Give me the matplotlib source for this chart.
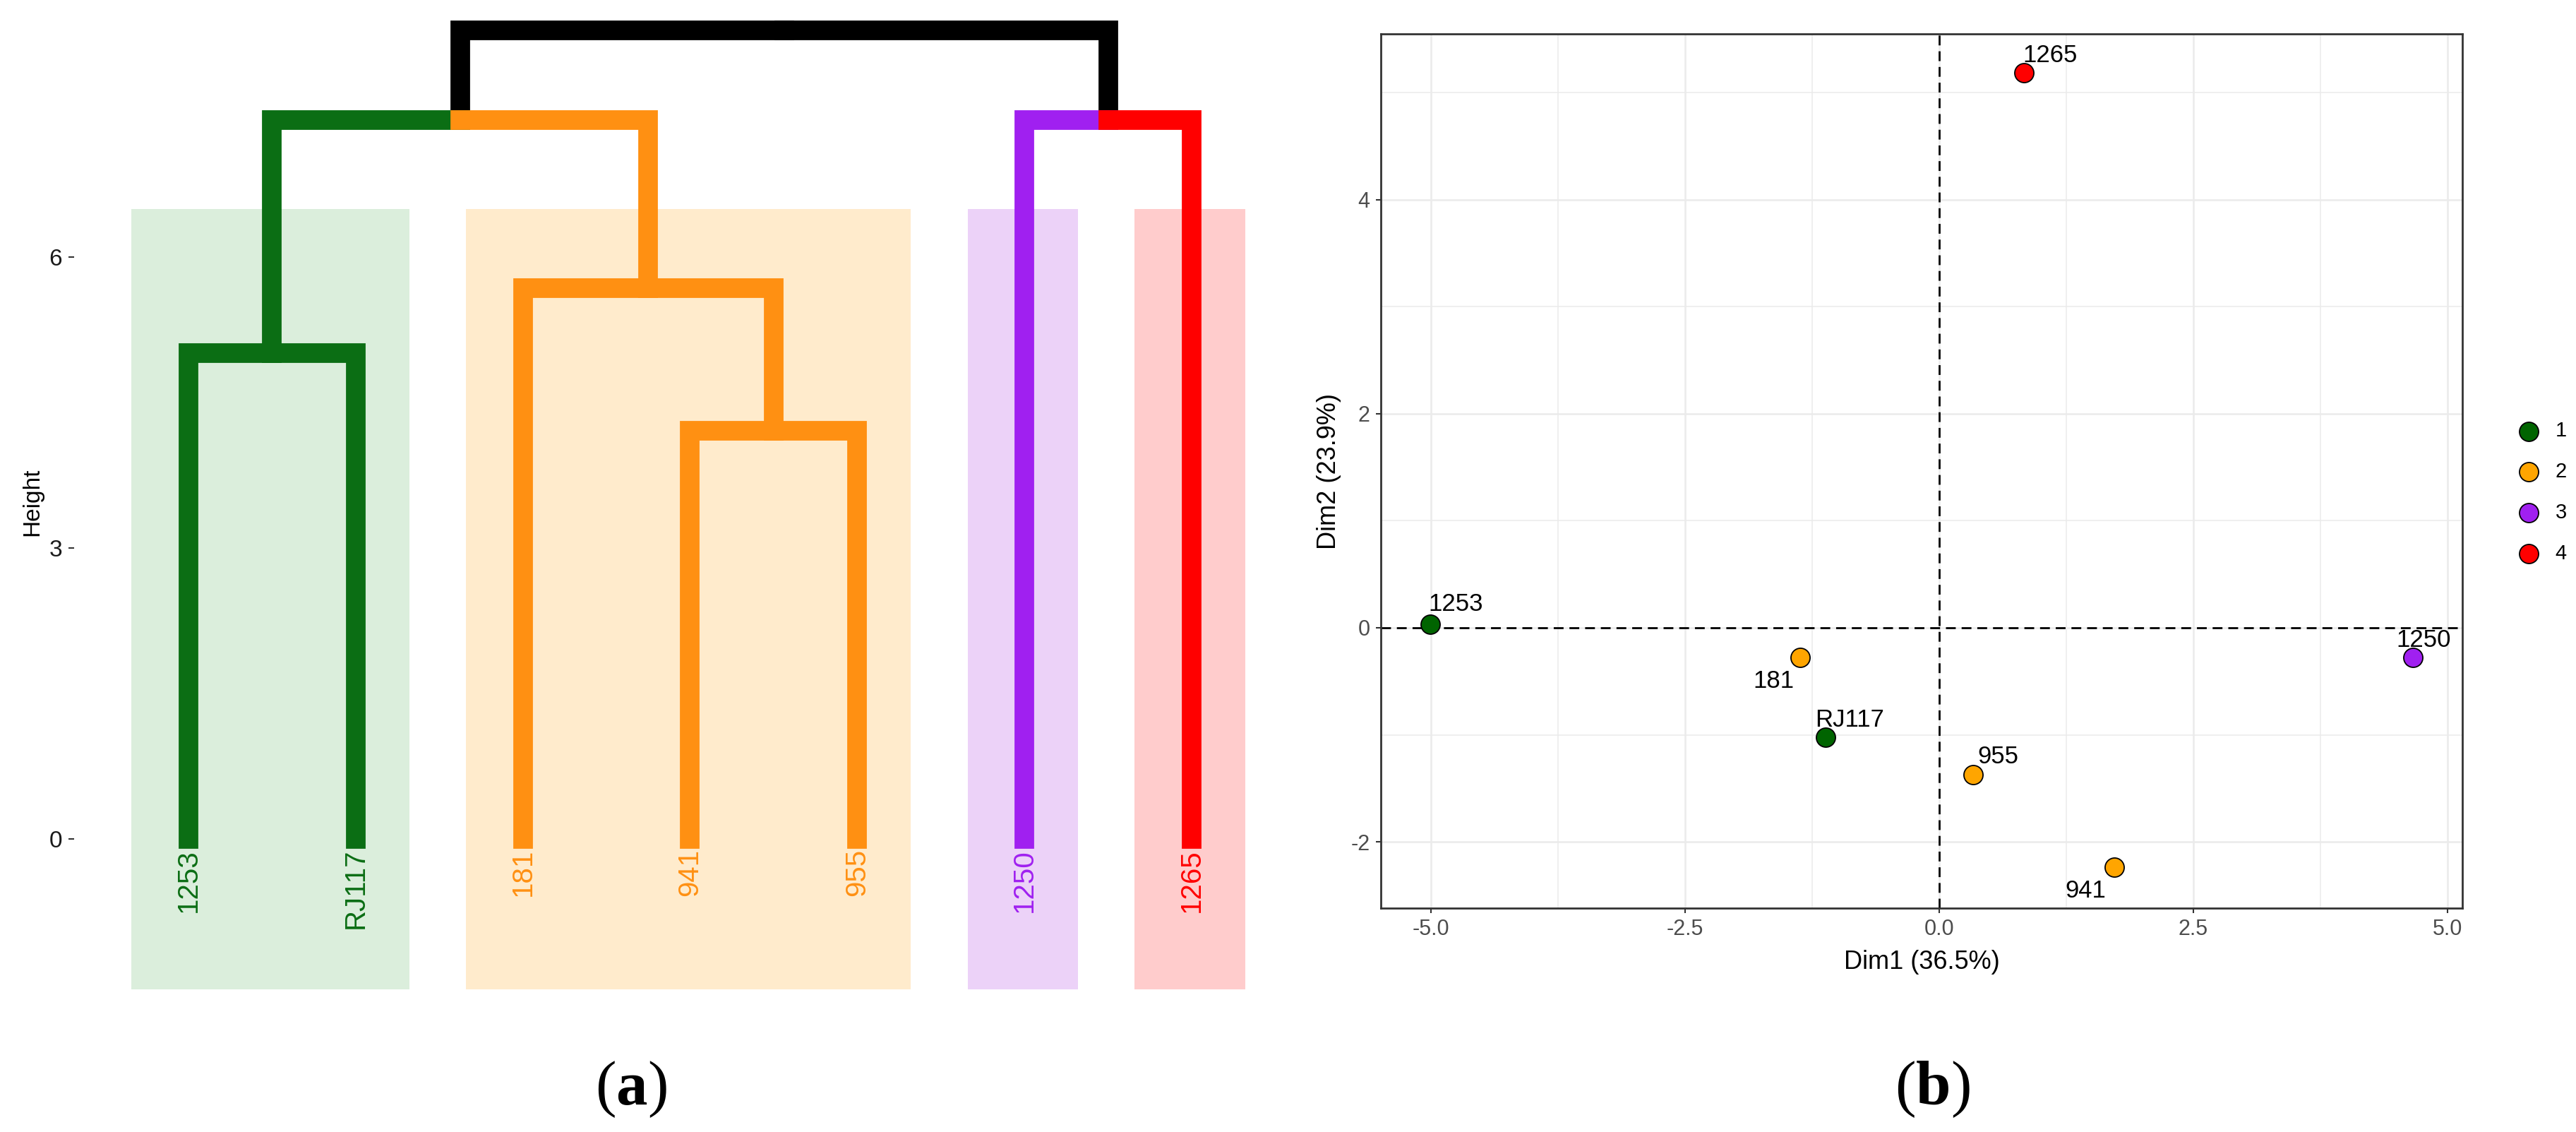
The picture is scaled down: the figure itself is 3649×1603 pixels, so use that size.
import matplotlib
matplotlib.use('Agg')
from matplotlib import pyplot as plt
from matplotlib.patches import Rectangle

plt.rcParams['font.family'] = ['Liberation Sans', 'DejaVu Sans']
plt.rcParams['axes.unicode_minus'] = False
plt.rcParams['mathtext.fontset'] = 'custom'
plt.rcParams['mathtext.rm'] = 'Liberation Serif'
plt.rcParams['mathtext.bf'] = 'Liberation Serif:bold'

# (a) dendrogram data, leaves in plotting order
leaf_labels = ['1253', 'RJ117', '181', '941', '955', '1250', '1265']
leaf_cluster = [1, 1, 2, 2, 2, 3, 4]
# hclust style merges: negative = leaf (1-based), positive = earlier merge
merge_left = [-4, -1, -3, 2, -6, 4]
merge_right = [-5, -2, 1, 3, -7, 5]
merge_height = [4.21, 5.01, 5.68, 7.41, 7.41, 8.33]
height_ticks = [0, 3, 6]

# (b) PCA individuals
pca_labels = ['1253', 'RJ117', '181', '941', '955', '1250', '1265']
dim1 = [-5.01, -1.12, -1.37, 1.72, 0.33, 4.66, 0.83]
dim2 = [0.03, -1.02, -0.28, -2.24, -1.37, -0.28, 5.19]
pca_cluster = [1, 1, 2, 2, 2, 3, 4]
cluster_names = ['1', '2', '3', '4']
xticks_b = [-5.0, -2.5, 0.0, 2.5, 5.0]
yticks_b = [-2, 0, 2, 4]

line_cols = {1: '#0b6e14', 2: '#ff9012', 3: '#a020f0', 4: '#ff0000'}
rect_cols = {1: '#dbeedc', 2: '#ffebcc', 3: '#ecd2f8', 4: '#ffcccc'}
point_cols = {1: '#006400', 2: '#ffa500', 3: '#a020f0', 4: '#ff0000'}

# label offsets (points) for the PCA text labels
lab_off = {'1253': (26, 21), 'RJ117': (25, 17), '181': (-27, -24), '941': (-29, -24),
           '955': (26, 18), '1250': (11, 18), '1265': (27, 17)}

W, H = 3649, 1603
fig = plt.figure(figsize=(W / 100, H / 100), dpi=100)

# ---------------- (a) ----------------
ax1 = fig.add_axes([105 / W, 1 - 1401 / H, (1800 - 105) / W, 1381 / H])
ax1.set_xlim(0.316, 7.473)
ax1.set_ylim(-1.55, 8.50)
rect_bottom, rect_top = -1.55, 6.49

for c in sorted(set(leaf_cluster)):
    pos = [i + 1 for i, k in enumerate(leaf_cluster) if k == c]
    x0, x1 = min(pos) - 0.34, max(pos) + 0.32
    ax1.add_patch(Rectangle((x0, rect_bottom), x1 - x0, rect_top - rect_bottom,
                            fc=rect_cols[c], ec='none', zorder=0))

nodes = []


def get(i):
    if i < 0:
        return {'x': -i, 'h': 0.0, 'leaves': [-i - 1], 'kids': None}
    return nodes[i - 1]


for j in range(len(merge_height)):
    a = get(merge_left[j])
    b = get(merge_right[j])
    nodes.append({'x': (a['x'] + b['x']) / 2, 'h': merge_height[j],
                  'leaves': a['leaves'] + b['leaves'], 'kids': (a, b)})


def node_col(nd):
    cl = set(leaf_cluster[k] for k in nd['leaves'])
    return line_cols[cl.pop()] if len(cl) == 1 else 'black'


def draw(nd):
    for kid in nd['kids']:
        ax1.plot([kid['x'], kid['x'], nd['x']], [kid['h'], nd['h'], nd['h']],
                 color=node_col(kid), lw=20, solid_capstyle='projecting',
                 solid_joinstyle='miter', zorder=2)
    for kid in nd['kids']:
        if kid['kids'] is not None:
            draw(kid)


draw(nodes[-1])

for i, lab in enumerate(leaf_labels):
    ax1.annotate(lab, (i + 1, 0), xytext=(0, -10), textcoords='offset points',
                 rotation=90, ha='center', va='top', fontsize=29,
                 color=line_cols[leaf_cluster[i]])

for s in ax1.spines.values():
    s.set_visible(False)
ax1.set_xticks([])
ax1.set_yticks(height_ticks)
ax1.tick_params(axis='y', length=6, width=1.5, color='#333333', labelsize=24,
                labelcolor='#1a1a1a', pad=6)
ax1.set_ylabel('Height', fontsize=24, labelpad=6)

# ---------------- (b) ----------------
ax2 = fig.add_axes([1956 / W, 1 - 1286 / H, 1532 / W, 1238 / H])
ax2.set_xlim(-5.493, 5.146)
ax2.set_ylim(-2.62, 5.55)
ax2.set_xticks(xticks_b)
ax2.set_xticklabels(['%.1f' % v for v in xticks_b])
ax2.set_yticks(yticks_b)
ax2.set_xticks([-3.75, -1.25, 1.25, 3.75], minor=True)
ax2.set_yticks([-1, 1, 3, 5], minor=True)
ax2.grid(which='major', color='#ebebeb', lw=1.8)
ax2.grid(which='minor', color='#ebebeb', lw=1.1)
ax2.set_axisbelow(True)
ax2.tick_params(which='minor', length=0)
ax2.tick_params(which='major', length=5, width=1.5, color='#333333',
                labelsize=22, labelcolor='#4d4d4d', pad=6)
for s in ax2.spines.values():
    s.set_color('#333333')
    s.set_linewidth(2)

ax2.axhline(0, color='black', lw=2, ls=(0, (5, 3)), zorder=1)
ax2.axvline(0, color='black', lw=2, ls=(0, (5, 3)), zorder=1)

handles = []
for c in sorted(set(pca_cluster)):
    xs = [dim1[i] for i in range(len(dim1)) if pca_cluster[i] == c]
    ys = [dim2[i] for i in range(len(dim2)) if pca_cluster[i] == c]
    h = ax2.scatter(xs, ys, s=380, c=point_cols[c], edgecolors='black',
                    linewidths=1.3, label=cluster_names[c - 1], zorder=3)
    handles.append(h)

for i, lab in enumerate(pca_labels):
    ax2.annotate(lab, (dim1[i], dim2[i]), xytext=lab_off[lab],
                 textcoords='offset points', ha='center', va='center',
                 fontsize=25, color='black', zorder=4)

ax2.set_xlabel('Dim1 (36.5%)', fontsize=26, labelpad=10)
ax2.set_ylabel('Dim2 (23.9%)', fontsize=26, labelpad=10)

fig.legend(handles=handles, labels=cluster_names, loc='center left',
           bbox_to_anchor=(3541 / W, 1 - 697 / H), frameon=False, fontsize=21,
           handlelength=1.0, handletextpad=0.8, labelspacing=1.02, borderpad=0.4)

# panel captions
fig.text(894 / W, 1 - 1543 / H, r'($\mathbf{a}$)', ha='center', va='center',
         fontsize=64, family='Liberation Serif')
fig.text(2737 / W, 1 - 1543 / H, r'($\mathbf{b}$)', ha='center', va='center',
         fontsize=64, family='Liberation Serif')

fig.savefig('out.png', dpi=100)
